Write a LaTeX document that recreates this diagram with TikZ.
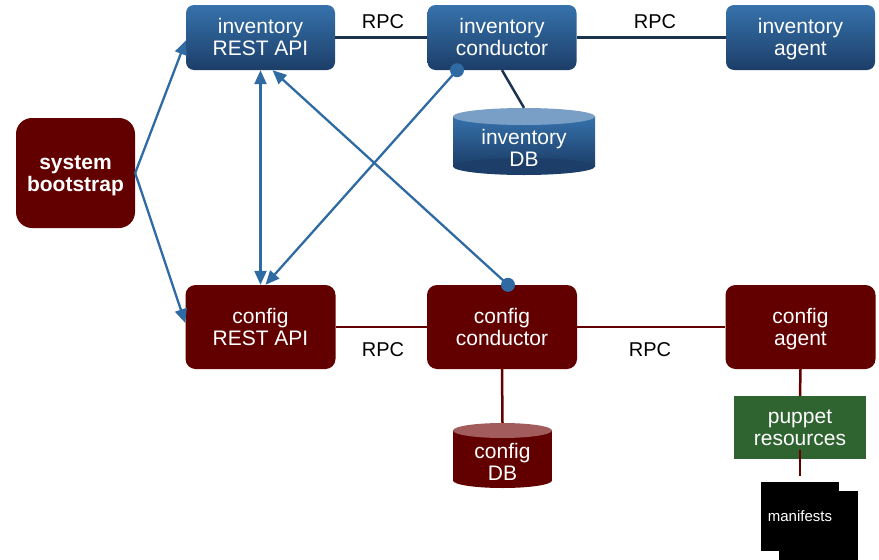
\documentclass[tikz,border=0pt]{standalone}
\usepackage{fontspec}
\setmainfont{Liberation Sans}
\usetikzlibrary{arrows.meta}
\definecolor{invtop}{HTML}{3672AC}
\definecolor{invbot}{HTML}{1C3E68}
\definecolor{cfgred}{HTML}{620000}
\definecolor{pupgreen}{HTML}{2F6431}
\definecolor{arrblue}{HTML}{2F6AA3}
\definecolor{navyline}{HTML}{1B3350}
\definecolor{invdbtop}{HTML}{7A9FC6}
\definecolor{cfgdbtop}{HTML}{A35C5C}
\newcommand{\twolines}[2]{\rule{0pt}{21.4pt}#1\\#2\strut}
\tikzset{
  lbl/.style={font=\fontsize{21}{22}\selectfont, text=white, align=center, inner sep=0pt},
  invbox/.style={lbl, rounded corners=8pt, top color=invtop, bottom color=invbot, draw=none,
    minimum width=149pt, minimum height=65pt},
  cfgbox/.style={lbl, rounded corners=10pt, fill=cfgred, minimum width=150pt, minimum height=84pt},
  rpc/.style={font=\fontsize{20}{22}\selectfont, text=black, inner sep=0pt},
  invline/.style={draw=navyline, line width=2.5pt},
  cfgline/.style={draw=cfgred, line width=2.5pt},
  tipA/.tip={Triangle[length=14pt,width=12pt]},
  barrow/.style={draw=arrblue, line width=2.3pt, -tipA},
  dot/.style={fill=arrblue, circle, inner sep=0pt, minimum size=14pt}
}
\begin{document}
\begin{tikzpicture}[x=1pt,y=-1pt]
\useasboundingbox (0,0) rectangle (879,560);
% inventory row
\node[invbox] (invrest) at (260.5,37.5) {\twolines{inventory}{REST API}};
\node[invbox] (invcond) at (502,37.5) {\twolines{inventory}{conductor}};
\node[invbox] (invagent) at (800.5,37.5) {\twolines{inventory}{agent}};
% inventory DB cylinder
\shade[top color=invtop, bottom color=invbot] (453,116.5) rectangle (595,166.5);
\fill[invbot] (524,166.5) ellipse [x radius=71, y radius=8.5];
\fill[invdbtop] (524,116.5) ellipse [x radius=71, y radius=8.5];
\node[minimum width=142pt, minimum height=67pt, inner sep=0pt] (invdb) at (524,141.5) {};
\node[lbl] (invdbtext) at (524,148.5) {\twolines{inventory}{DB}};
% config row
\node[cfgbox] (confrest) at (260.5,327) {\twolines{config}{REST API}};
\node[cfgbox] (confcond) at (502,327) {\twolines{config}{conductor}};
\node[cfgbox] (confagent) at (800.5,327) {\twolines{config}{agent}};
% system bootstrap
\node[lbl, font=\bfseries\fontsize{21}{22}\selectfont, rounded corners=16pt, fill=cfgred,
  minimum width=119pt, minimum height=110pt] (boot) at (75.5,173) {\twolines{system}{bootstrap}};
% config DB cylinder
\fill[cfgred] (453,430.5) rectangle (552,480.5);
\fill[cfgred] (502.5,480.5) ellipse [x radius=49.5, y radius=7.5];
\fill[cfgdbtop] (502.5,430.5) ellipse [x radius=49.5, y radius=7.5];
\node[minimum width=99pt, minimum height=65pt, inner sep=0pt] (confdb) at (502.5,455.5) {};
\node[lbl] (confdbtext) at (502.5,462) {\twolines{config}{DB}};
% puppet resources
\node[lbl, fill=pupgreen, minimum width=132pt, minimum height=63pt] (puppet) at (800,427.5) {\twolines{puppet}{resources}};
% manifests
\fill[black] (761,482) rectangle (839,551);
\node[fill=black, minimum width=79pt, minimum height=69pt, inner sep=0pt] (manback) at (818.5,525.5) {};
\node[font=\fontsize{15}{18}\selectfont, text=white, inner sep=0pt] (manifests) at (800,516) {manifests};
\coordinate (mantop) at (800,476);
% RPC labels
\node[rpc] (rpc1) at (383,22) {RPC};
\node[rpc] (rpc2) at (655,22) {RPC};
\node[rpc] (rpc3) at (383,350) {RPC};
\node[rpc] (rpc4) at (650,350) {RPC};
% inventory lines
\draw[invline] (invrest.east) -- (invcond.west);
\draw[invline] (invcond.east) -- (invagent.west);
\draw[invline] (invcond.south) -- (invdb.north);
% config lines
\draw[cfgline] (confrest.east) -- (confcond.west);
\draw[cfgline] (confcond.east) -- (confagent.west);
\draw[cfgline] (confcond.south) -- (confdb.north);
\draw[cfgline] (confagent.south) -- (puppet.north);
\draw[cfgline] ([yshift=9pt]puppet.south) -- (mantop);
% arrows
\draw[barrow] (boot.east) -- ([yshift=-3pt]invrest.west);
\draw[barrow] (boot.east) -- ([yshift=4pt]confrest.west);
\draw[barrow, tipA-tipA] (invrest.south) -- (confrest.north);
\node[dot] (invdot) at ([xshift=-45pt]invcond.south) {};
\node[dot] (cfgdot) at ([xshift=6pt]confcond.north) {};
\draw[barrow] (invdot.center) -- ([xshift=5pt]confrest.north);
\draw[barrow] (cfgdot.center) -- ([xshift=12pt]invrest.south);
\end{tikzpicture}
\end{document}
